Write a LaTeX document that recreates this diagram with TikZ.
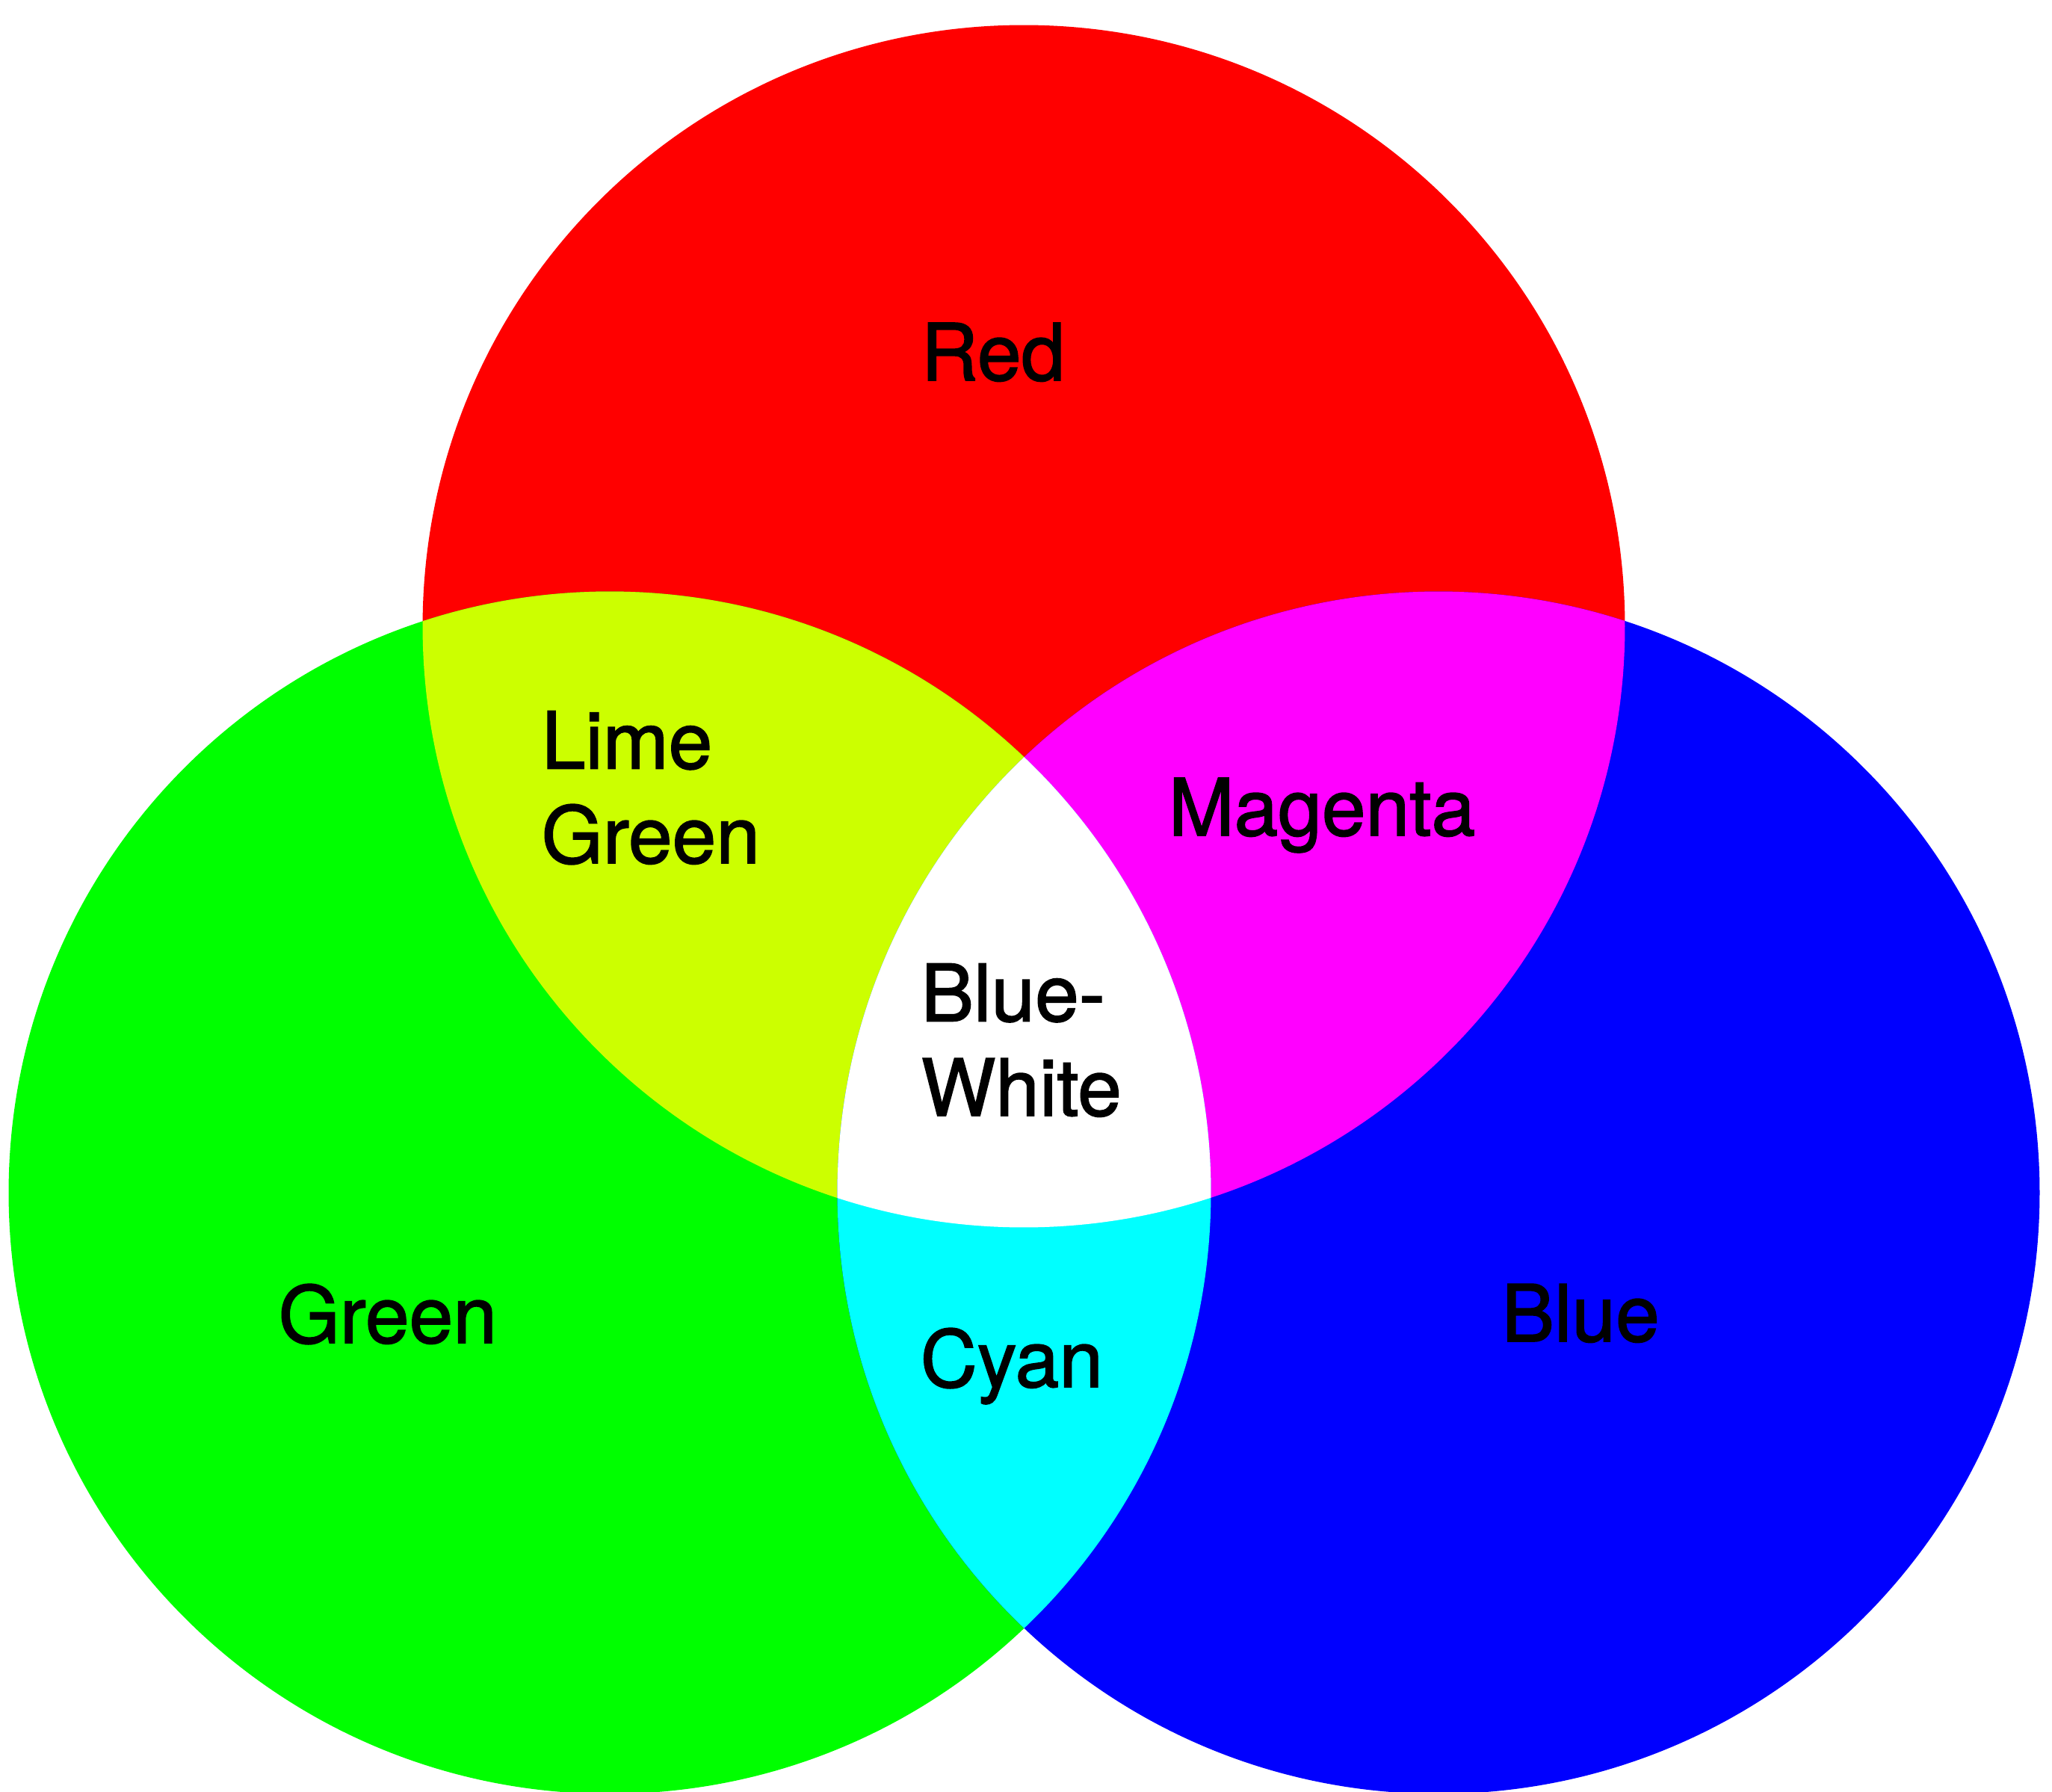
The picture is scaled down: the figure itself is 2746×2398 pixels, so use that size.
\documentclass[tikz,border=0pt]{standalone}
\usepackage{fontspec}
\setmainfont{TeX Gyre Heros}[FakeBold=1.6]
\definecolor{rgbred}{RGB}{255,0,0}
\definecolor{rgbgreen}{RGB}{0,255,0}
\definecolor{rgbblue}{RGB}{0,0,255}
\definecolor{rgblime}{RGB}{204,255,0}
\definecolor{rgbmagenta}{RGB}{255,0,255}
\definecolor{rgbcyan}{RGB}{0,255,255}
\tikzset{
  colorlabel/.style={anchor=base west, inner sep=0pt, align=left,
    font=\fontsize{30}{36}\selectfont}
}
\begin{document}
\begin{tikzpicture}[x=0.01cm,y=-0.01cm]
    \useasboundingbox (0,0) rectangle (2746,2398);
    \def\rad{8.04cm}
    \coordinate (cr) at (1370,838);
    \coordinate (cg) at (816,1596);
    \coordinate (cb) at (1925,1596);

    % the three primaries
    \fill[rgbred] (cr) circle[radius=\rad];
    \fill[rgbgreen] (cg) circle[radius=\rad];
    \fill[rgbblue] (cb) circle[radius=\rad];

    % overlaps of two
    \begin{scope}
        \clip (cr) circle[radius=\rad];
        \fill[rgblime] (cg) circle[radius=\rad];
        \fill[rgbmagenta] (cb) circle[radius=\rad];
    \end{scope}
    \begin{scope}
        \clip (cg) circle[radius=\rad];
        \fill[rgbcyan] (cb) circle[radius=\rad];
    \end{scope}

    % overlap of all three
    \begin{scope}
        \clip (cr) circle[radius=\rad];
        \clip (cg) circle[radius=\rad];
        \fill[white] (cb) circle[radius=\rad];
    \end{scope}

    % labels (base of a two-line label is its last line)
    \node[colorlabel] (red) at (1232,509) {Red};
    \node[colorlabel] (lime) at (724,1155) {Lime\\Green};
    \node[colorlabel] (magenta) at (1563,1118) {Magenta};
    \node[colorlabel] (white) at (1232,1493) {Blue-\\White};
    \node[colorlabel] (green) at (372,1797) {Green};
    \node[colorlabel] (cyan) at (1231,1856) {Cyan};
    \node[colorlabel] (blue) at (2009,1795) {Blue};
\end{tikzpicture}
\end{document}
